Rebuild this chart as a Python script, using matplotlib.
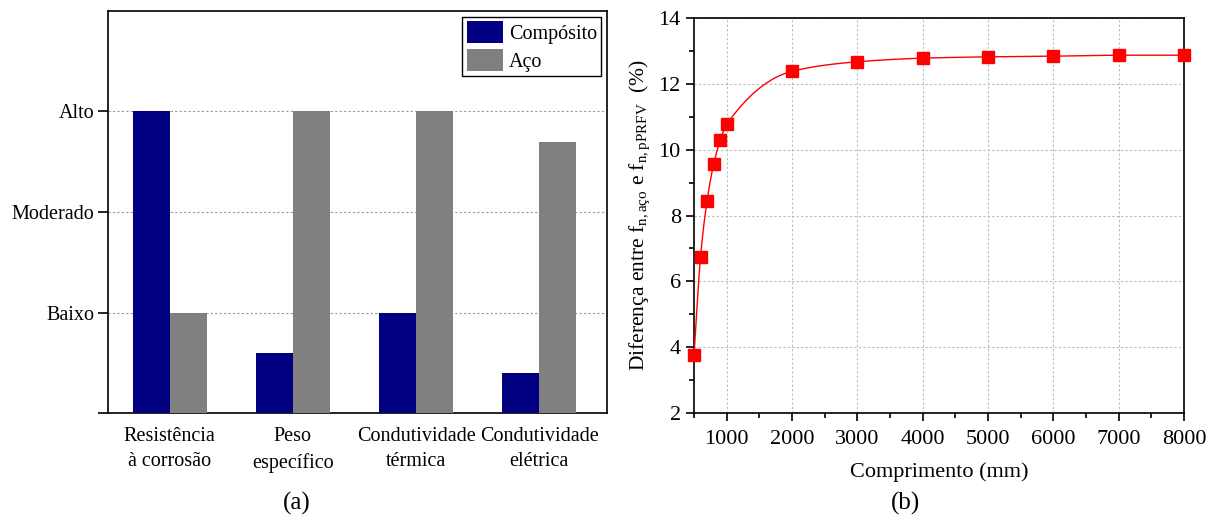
import numpy as np
import matplotlib
matplotlib.use('Agg')
import matplotlib.pyplot as plt
from matplotlib import rc

rc('font', **{'family': 'serif', 'serif': ['Liberation Serif'], 'size': 14})
rc('mathtext', fontset='custom', rm='Liberation Serif', it='Liberation Serif:italic')

# (a) qualitative comparison
categorias = ['Resistência\nà corrosão', 'Peso\nespecífico',
              'Condutividade\ntérmica', 'Condutividade\nelétrica']
composito = [3.0, 0.6, 1.0, 0.4]
aco = [1.0, 3.0, 3.0, 2.7]
niveis = [0, 1, 2, 3]
niveis_txt = ['', 'Baixo', 'Moderado', 'Alto']

# (b) frequency difference vs length
comprimento = [500, 600, 700, 800, 900, 1000, 2000, 3000, 4000, 5000, 6000, 7000, 8000]
diferenca = [3.75, 6.75, 8.45, 9.55, 10.28, 10.77, 12.38, 12.67, 12.78, 12.82, 12.84, 12.87, 12.87]


def pchip(x, y, xn):
    x = np.asarray(x, float)
    y = np.asarray(y, float)
    h = np.diff(x)
    d = np.diff(y) / h
    m = np.zeros_like(y)
    for k in range(1, len(x) - 1):
        if d[k - 1] * d[k] > 0:
            w1 = 2 * h[k] + h[k - 1]
            w2 = h[k] + 2 * h[k - 1]
            m[k] = (w1 + w2) / (w1 / d[k - 1] + w2 / d[k])
    m[0] = d[0]
    m[-1] = d[-1]
    idx = np.clip(np.searchsorted(x, xn) - 1, 0, len(h) - 1)
    t = (xn - x[idx]) / h[idx]
    h00 = 2 * t**3 - 3 * t**2 + 1
    h10 = t**3 - 2 * t**2 + t
    h01 = -2 * t**3 + 3 * t**2
    h11 = t**3 - t**2
    return h00 * y[idx] + h10 * h[idx] * m[idx] + h01 * y[idx + 1] + h11 * h[idx] * m[idx + 1]


fig = plt.figure(figsize=(12.13, 5.17), dpi=100)
W, H = 1213, 517

ax1 = fig.add_axes([108 / W, (H - 413) / H, (607 - 108) / W, (413 - 11) / H])
pos = np.arange(1, len(categorias) + 1)
bw = 0.3
ax1.bar(pos - bw / 2, composito, bw, color='#000080', label='Compósito', zorder=3)
ax1.bar(pos + bw / 2, aco, bw, color='#808080', label='Aço', zorder=3)
ax1.set_xlim(0.5, 4.55)
ax1.set_ylim(0, 4)
ax1.set_yticks(niveis)
ax1.set_yticklabels(niveis_txt)
ax1.set_xticks(pos)
ax1.set_xticklabels(categorias, linespacing=1.45)
ax1.tick_params(axis='x', length=0, pad=10, labelsize=14.5)
ax1.tick_params(axis='y', direction='out', length=7, width=1.2, pad=3, labelsize=14.5)
ax1.yaxis.grid(True, linestyle=(0, (2, 2)), color='#999999', linewidth=0.8, zorder=0)
for s in ax1.spines.values():
    s.set_linewidth(1.2)
leg = ax1.legend(loc='upper right', fancybox=False, edgecolor='black', framealpha=1,
                 handlelength=1.8, handleheight=1.3, borderpad=0.2, labelspacing=0.25,
                 handletextpad=0.3, borderaxespad=0.3, fontsize=14.5)
leg.get_frame().set_linewidth(1.0)
fig.text(297 / W, 1 - 503 / H, '(a)', ha='center', va='center', fontsize=18)

ax2 = fig.add_axes([694 / W, (H - 413) / H, (1184 - 694) / W, (413 - 18) / H])
xs = np.linspace(500, 8000, 1500)
ax2.plot(xs, pchip(comprimento, diferenca, xs), color='red', linewidth=1.0, zorder=3)
ax2.plot(comprimento, diferenca, linestyle='none', marker='s', markersize=8.5,
         color='red', zorder=4, clip_on=False)
ax2.set_xlim(500, 8000)
ax2.set_ylim(2, 14)
ax2.set_xticks(range(1000, 8001, 1000))
ax2.set_xticks(range(500, 8001, 500), minor=True)
ax2.set_yticks(range(2, 15, 2))
ax2.set_yticks(range(3, 14, 2), minor=True)
ax2.tick_params(which='major', direction='out', length=6, width=1.2, labelsize=16)
ax2.tick_params(axis='x', which='major', pad=6)
ax2.tick_params(which='minor', direction='out', length=3.5, width=1.2)
ax2.grid(True, which='major', linestyle=(0, (2, 2)), color='#bbbbbb', linewidth=0.8, zorder=0)
for s in ax2.spines.values():
    s.set_linewidth(1.2)
ax2.set_xlabel('Comprimento (mm)', fontsize=16, labelpad=10)
ax2.set_ylabel(r'Diferença entre f$_{\mathrm{n,aço}}$ e f$_{\mathrm{n,pPRFV}}$  (%)',
               fontsize=15.5, labelpad=5)
fig.text(905 / W, 1 - 503 / H, '(b)', ha='center', va='center', fontsize=18)

fig.savefig('out.png', dpi=100)
